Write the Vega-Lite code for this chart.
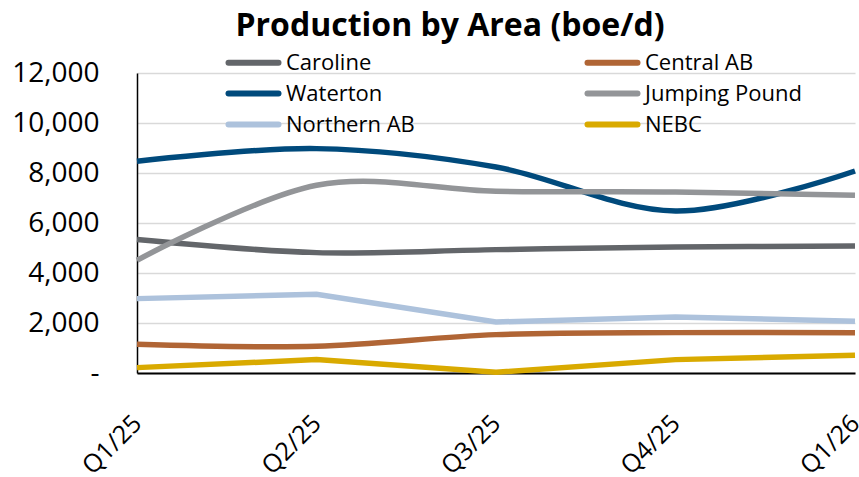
{
  "$schema": "https://vega.github.io/schema/vega-lite/v6.json",
  "width": 718,
  "height": 300,
  "autosize": {"type": "none"},
  "padding": {"left": 137, "top": 73, "right": 4, "bottom": 104},
  "background": "white",
  "title": {
    "text": "Production by Area (boe/d)",
    "font": "Open Sans",
    "fontSize": 32,
    "fontWeight": "bold",
    "color": "#000000",
    "anchor": "middle",
    "frame": "group",
    "dx": -46,
    "offset": 4
  },
  "config": {
    "view": {"stroke": null},
    "font": "Open Sans"
  },
  "data": {
    "values": [
      {"q": "Q1/25", "area": "Caroline", "v": 5340},
      {"q": "Q2/25", "area": "Caroline", "v": 4815},
      {"q": "Q3/25", "area": "Caroline", "v": 4935},
      {"q": "Q4/25", "area": "Caroline", "v": 5040},
      {"q": "Q1/26", "area": "Caroline", "v": 5080},
      {"q": "Q1/25", "area": "Central AB", "v": 1150},
      {"q": "Q2/25", "area": "Central AB", "v": 1070},
      {"q": "Q3/25", "area": "Central AB", "v": 1535},
      {"q": "Q4/25", "area": "Central AB", "v": 1615},
      {"q": "Q1/26", "area": "Central AB", "v": 1615},
      {"q": "Q1/25", "area": "Waterton", "v": 8470},
      {"q": "Q2/25", "area": "Waterton", "v": 8975},
      {"q": "Q3/25", "area": "Waterton", "v": 8240},
      {"q": "Q4/25", "area": "Waterton", "v": 6480},
      {"q": "Q1/26", "area": "Waterton", "v": 8080},
      {"q": "Q1/25", "area": "Jumping Pound", "v": 4510},
      {"q": "Q2/25", "area": "Jumping Pound", "v": 7510},
      {"q": "Q3/25", "area": "Jumping Pound", "v": 7270},
      {"q": "Q4/25", "area": "Jumping Pound", "v": 7240},
      {"q": "Q1/26", "area": "Jumping Pound", "v": 7110},
      {"q": "Q1/25", "area": "Northern AB", "v": 2975},
      {"q": "Q2/25", "area": "Northern AB", "v": 3150},
      {"q": "Q3/25", "area": "Northern AB", "v": 2040},
      {"q": "Q4/25", "area": "Northern AB", "v": 2240},
      {"q": "Q1/26", "area": "Northern AB", "v": 2070},
      {"q": "Q1/25", "area": "NEBC", "v": 215},
      {"q": "Q2/25", "area": "NEBC", "v": 535},
      {"q": "Q3/25", "area": "NEBC", "v": 30},
      {"q": "Q4/25", "area": "NEBC", "v": 535},
      {"q": "Q1/26", "area": "NEBC", "v": 710}
    ]
  },
  "encoding": {
    "x": {
      "field": "q",
      "type": "ordinal",
      "sort": null,
      "scale": {"type": "point", "padding": 0},
      "axis": {
        "title": null,
        "labelAngle": -45,
        "labelAlign": "right",
        "labelBaseline": "middle",
        "labelFontSize": 25,
        "labelColor": "#000000",
        "labelPadding": 46,
        "labelDx": -11,
        "ticks": false,
        "domainColor": "#000000",
        "domainWidth": 2,
        "grid": false
      }
    },
    "y": {
      "field": "v",
      "type": "quantitative",
      "scale": {"domain": [0, 12000], "nice": false},
      "axis": {
        "title": null,
        "values": [0, 2000, 4000, 6000, 8000, 10000, 12000],
        "labelExpr": "datum.value === 0 ? '-' : format(datum.value, ',')",
        "labelFontSize": 28,
        "labelColor": "#000000",
        "labelPadding": 38,
        "ticks": false,
        "domainColor": "#000000",
        "domainWidth": 1.5,
        "gridColor": "#d9d9d9",
        "gridWidth": 1.5
      }
    },
    "color": {
      "field": "area",
      "type": "nominal",
      "scale": {
        "domain": ["Caroline", "Waterton", "Northern AB", "Central AB", "Jumping Pound", "NEBC"],
        "range": ["#63666a", "#004a7c", "#adc2dc", "#b06535", "#939598", "#d9aa00"]
      },
      "legend": {
        "title": null,
        "orient": "none",
        "legendX": 101,
        "legendY": -26,
        "columns": 2,
        "columnPadding": 160,
        "rowPadding": 3,
        "symbolType": "M-2,0H2",
        "symbolSize": 625,
        "symbolStrokeWidth": 6,
        "labelFontSize": 22,
        "labelColor": "#000000",
        "labelOffset": 17,
        "labelLimit": 300,
        "encode": {"symbols": {"update": {"strokeCap": {"value": "round"}}}}
      }
    }
  },
  "layer": [
    {
      "transform": [{"filter": "datum.area !== 'Northern AB' && datum.area !== 'NEBC'"}],
      "mark": {"type": "line", "interpolate": "cardinal", "strokeWidth": 5.5}
    },
    {
      "transform": [{"filter": "datum.area === 'Northern AB' || datum.area === 'NEBC'"}],
      "mark": {"type": "line", "interpolate": "linear", "strokeWidth": 5.5}
    }
  ]
}
